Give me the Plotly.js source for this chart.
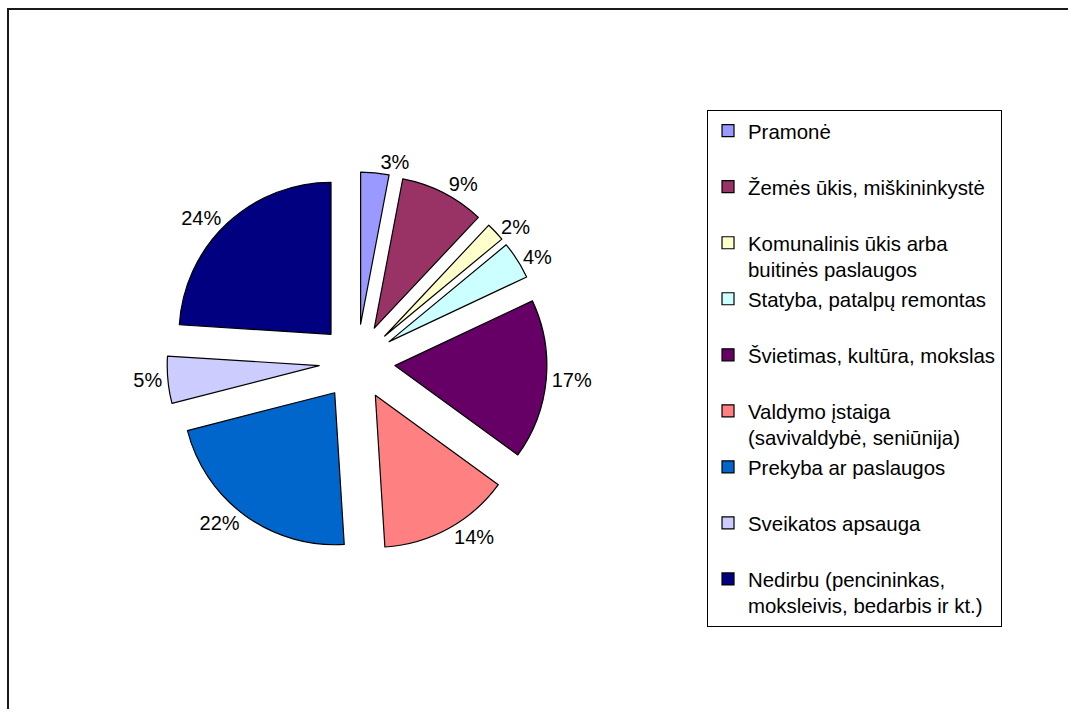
<!DOCTYPE html>
<html>
<head>
<meta charset="utf-8">
<script src="https://cdn.plot.ly/plotly-3.0.1.min.js"></script>
<style>
  html, body { margin: 0; padding: 0; background: #ffffff; }
  #chart { width: 1068px; height: 709px; }
  #chart path.textline { display: none; }
</style>
</head>
<body>
<div id="chart"></div>
<script>
// Categories (legend labels) in drawing order, clockwise from 12 o'clock
const categories = [
  "Pramonė",
  "Žemės ūkis, miškininkystė",
  "Komunalinis ūkis arba<br>buitinės paslaugos",
  "Statyba, patalpų remontas",
  "Švietimas, kultūra, mokslas",
  "Valdymo įstaiga<br>(savivaldybė, seniūnija)",
  "Prekyba ar paslaugos",
  "Sveikatos apsauga",
  "Nedirbu (pencininkas,<br>moksleivis, bedarbis ir kt.)"
];
// Shares, percent
const shares = [3, 9, 2, 4, 17, 14, 22, 5, 24];
// Slice colours
const sliceColors = ["#9999FF", "#993366", "#FFFFCC", "#CCFFFF", "#660066",
                     "#FF8080", "#0066CC", "#CCCCFF", "#000080"];

// pad single-line legend entries to two lines so every entry has equal height
const legendLabels = categories.map(c => c.indexOf("<br>") >= 0 ? c : c + "<br>\u00a0");

const FONT = "Liberation Sans, Arial, sans-serif";

const trace = {
  type: "pie",
  labels: legendLabels,
  values: shares,
  sort: false,
  direction: "clockwise",
  rotation: 0,
  pull: 0.25,
  marker: { colors: sliceColors, line: { color: "#000000", width: 1.2 } },
  texttemplate: "%{value}%",
  textposition: "outside",
  textfont: { family: FONT, size: 20, color: "#000000" },
  hoverinfo: "label+percent",
  domain: { x: [0.1564, 0.5122], y: [0.2214, 0.7574] }
};

const layout = {
  width: 1068,
  height: 709,
  margin: { l: 0, r: 0, t: 0, b: 0, autoexpand: false },
  paper_bgcolor: "#ffffff",
  plot_bgcolor: "#ffffff",
  font: { family: FONT, size: 20, color: "#000000" },
  showlegend: true,
  legend: {
    x: 0.662, xanchor: "left",
    y: 0.845, yanchor: "top",
    bordercolor: "#000000",
    borderwidth: 1,
    bgcolor: "#ffffff",
    valign: "top",
    font: { family: FONT, size: 20.4, color: "#000000" },
    traceorder: "normal"
  },
  shapes: [
    { type: "rect", xref: "paper", yref: "paper",
      x0: 0.0075, x1: 1.2, y0: -0.2, y1: 0.9873,
      line: { color: "#1a1a1a", width: 2 }, fillcolor: "rgba(0,0,0,0)" }
  ]
};

Plotly.newPlot("chart", [trace], layout, { displayModeBar: false, staticPlot: true });
</script>
</body>
</html>
